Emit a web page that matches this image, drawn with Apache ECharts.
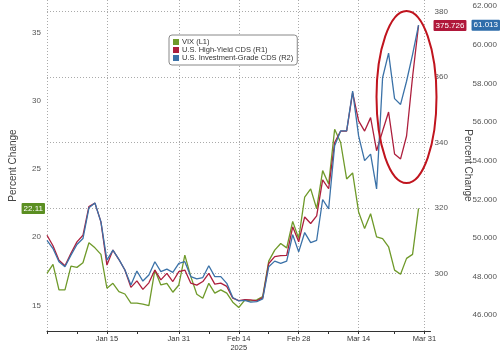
<!DOCTYPE html>
<html>
<head>
<meta charset="utf-8">
<script src="https://cdn.jsdelivr.net/npm/echarts@6/dist/echarts.min.js"></script>
<style>
html, body { margin: 0; padding: 0; background: #fff; }
#chart { width: 500px; height: 352px; }
</style>
</head>
<body>
<div id="chart"></div>
<script>
// weekday calendar (holidays kept, like the terminal chart)
var dates = [
  "Jan 1", "Jan 2", "Jan 3", "Jan 6", "Jan 7", "Jan 8", "Jan 9", "Jan 10", "Jan 13", "Jan 14",
  "Jan 15", "Jan 16", "Jan 17", "Jan 20", "Jan 21", "Jan 22", "Jan 23", "Jan 24", "Jan 27", "Jan 28",
  "Jan 29", "Jan 30", "Jan 31", "Feb 3", "Feb 4", "Feb 5", "Feb 6", "Feb 7", "Feb 10", "Feb 11",
  "Feb 12", "Feb 13", "Feb 14", "Feb 17", "Feb 18", "Feb 19", "Feb 20", "Feb 21", "Feb 24", "Feb 25",
  "Feb 26", "Feb 27", "Feb 28", "Mar 3", "Mar 4", "Mar 5", "Mar 6", "Mar 7", "Mar 10", "Mar 11",
  "Mar 12", "Mar 13", "Mar 14", "Mar 17", "Mar 18", "Mar 19", "Mar 20", "Mar 21", "Mar 24", "Mar 25",
  "Mar 26", "Mar 27", "Mar 28", "Mar 31", "Apr 1"
];
var labelDates = ["Jan 15", "Jan 31", "Feb 14", "Feb 28", "Mar 14", "Mar 31"];
var gridDates = ["Jan 1", "Jan 15", "Jan 31", "Feb 14", "Feb 28", "Mar 14", "Mar 31"];
var tickDates = ["Jan 1", "Jan 8", "Jan 15", "Jan 22", "Jan 31", "Feb 7", "Feb 14", "Feb 21",
  "Feb 28", "Mar 7", "Mar 14", "Mar 24", "Mar 31"];

// VIX (L1)
var vix = [
  17.35, 18.01, 16.14, 16.14, 17.88, 17.79, 18.13, 19.59, 19.22, 18.74,
  16.26, 16.62, 16.02, 15.84, 15.17, 15.17, 15.09, 14.99, 17.59, 16.5,
  16.62, 15.97, 16.5, 18.69, 17.11, 15.82, 15.53, 16.62, 15.9, 16.14,
  15.9, 15.24, 14.85, 15.39, 15.34, 15.41, 15.66, 18.25, 19.05, 19.54,
  19.22, 21.16, 19.9, 22.94, 23.54, 22.09, 24.88, 23.9, 27.91, 26.94,
  24.27, 24.71, 21.85, 20.63, 21.72, 20.03, 19.9, 19.3, 17.59, 17.28,
  18.45, 18.74, 22.11
];
// U.S. High-Yield CDS (R1)
var hyCds = [
  311.7, 308.5, 304.1, 302.4, 306.2, 309.7, 311.7, 320.5, 321.5, 315.8,
  302.6, 307.2, 304.3, 301.1, 295.8, 297.8, 295.2, 297.2, 301.1, 298.1,
  300.1, 297.6, 300.6, 301.1, 297.1, 296.5, 297.6, 300.1, 296.8, 297.1,
  296.1, 292.5, 291.8, 292.1, 292.0, 291.7, 292.7, 303.1, 305.2, 305.5,
  305.6, 314.3, 309.7, 317.3, 315.3, 317.6, 328.6, 325.9, 340.0, 343.5,
  343.5, 355.2, 346.6, 343.5, 347.6, 337.5, 343.5, 349.3, 336.5, 335.0,
  342.0, 360.0, 375.726
];
// U.S. Investment-Grade CDS (R2)
var igCds = [
  49.88, 49.45, 48.77, 48.51, 49.11, 49.66, 49.97, 51.56, 51.81, 50.83,
  48.85, 49.37, 48.89, 48.34, 47.57, 48.29, 47.77, 48.08, 48.77, 48.26,
  48.39, 48.22, 48.68, 48.77, 48.0, 47.88, 47.95, 48.56, 48.0, 48.0,
  47.65, 46.92, 46.74, 46.77, 46.68, 46.71, 46.85, 48.51, 48.8, 48.68,
  48.8, 50.17, 49.28, 50.28, 49.76, 49.88, 51.99, 51.51, 54.77, 55.54,
  55.54, 57.6, 55.28, 54.0, 54.34, 52.54, 58.29, 59.57, 57.21, 56.91,
  58.11, 59.49, 61.013
];

var vixTicks = [15, 20, 25, 30, 35];
var hyTicks = [300, 320, 340, 360, 380];
var igTicks = [46, 48, 50, 52, 54, 56, 58, 60, 62];

var green = "#6f9a2a";
var red = "#ad1f3d";
var blue = "#3b72a8";

function lastOf(arr) {
  return arr[arr.length - 1];
}

// invisible horizontal line at the last value, only its label is shown
function lastValueMark(arr, pos, dist, bg) {
  return {
    silent: true,
    symbol: "none",
    lineStyle: { width: 0, color: "rgba(0,0,0,0)", type: "solid" },
    label: {
      show: true,
      position: pos,
      distance: dist,
      formatter: "" + lastOf(arr),
      backgroundColor: bg,
      color: "#fff",
      fontSize: 8,
      padding: [2, 2, 1, 2],
      borderRadius: 1
    },
    data: [{ yAxis: lastOf(arr) }]
  };
}

var chart = echarts.init(document.getElementById("chart"));

var option = {
  animation: false,
  textStyle: { fontFamily: "Liberation Sans" },
  grid: { left: 35.7, right: 66.2, top: 0, bottom: 19 },
  legend: {
    orient: "vertical",
    left: 169,
    top: 35,
    icon: "rect",
    itemWidth: 6,
    itemHeight: 6,
    itemGap: 0,
    padding: [3, 4, 3, 4],
    backgroundColor: "#fff",
    borderColor: "#888",
    borderWidth: 1,
    borderRadius: 3,
    textStyle: { fontSize: 7.5, color: "#333", lineHeight: 8, padding: [0, 0, 0, -2] },
    data: ["VIX (L1)", "U.S. High-Yield CDS (R1)", "U.S. Investment-Grade CDS (R2)"]
  },
  xAxis: {
    type: "category",
    data: dates,
    boundaryGap: false,
    axisLine: { lineStyle: { color: "#333", width: 1 } },
    axisTick: {
      interval: function (i, v) { return tickDates.indexOf(v) >= 0; },
      length: 3,
      lineStyle: { color: "#333" }
    },
    axisLabel: {
      interval: function (i, v) { return labelDates.indexOf(v) >= 0; },
      formatter: function (v) { return v === "Feb 14" ? "Feb 14\n2025" : v; },
      fontSize: 7.5,
      lineHeight: 9,
      color: "#333",
      margin: 3
    },
    splitLine: {
      show: true,
      interval: function (i, v) { return gridDates.indexOf(v) >= 0; },
      lineStyle: { color: "#aaa", type: [1, 2] }
    }
  },
  yAxis: [
    {
      type: "value",
      position: "left",
      min: 13.128,
      max: 37.381,
      name: "Percent Change",
      nameLocation: "middle",
      nameGap: 29,
      nameTextStyle: { fontSize: 10, color: "#444" },
      axisLine: { show: false },
      axisTick: { show: false, customValues: vixTicks },
      axisLabel: { customValues: vixTicks, fontSize: 8, color: "#555", margin: 6 },
      splitLine: { show: false }
    },
    {
      type: "value",
      position: "right",
      min: 282.5,
      max: 383.49,
      name: "Percent Change",
      nameLocation: "middle",
      nameGap: 32,
      nameRotate: -90,
      nameTextStyle: { fontSize: 10, color: "#444" },
      axisLine: { show: false },
      axisTick: { show: false, customValues: hyTicks },
      axisLabel: { customValues: hyTicks, fontSize: 8, color: "#555", margin: 4 },
      splitLine: { show: true, lineStyle: { color: "#aaa", type: [1, 2] } }
    },
    {
      type: "value",
      position: "right",
      offset: 40,
      min: 45.185,
      max: 62.315,
      axisLine: { show: false },
      axisTick: { show: false, customValues: igTicks },
      axisLabel: {
        customValues: igTicks,
        fontSize: 8,
        color: "#555",
        margin: 2,
        formatter: function (v) { return v.toFixed(3); }
      },
      splitLine: { show: false }
    }
  ],
  series: [
    {
      name: "VIX (L1)",
      type: "line",
      yAxisIndex: 0,
      data: vix,
      symbol: "none",
      color: green,
      lineStyle: { width: 1.3 },
      markLine: lastValueMark(vix, "start", 2, "#5b8f22")
    },
    {
      name: "U.S. High-Yield CDS (R1)",
      type: "line",
      yAxisIndex: 1,
      data: hyCds,
      symbol: "none",
      color: red,
      lineStyle: { width: 1.3 },
      markLine: lastValueMark(hyCds, "end", 3, "#b0173a")
    },
    {
      name: "U.S. Investment-Grade CDS (R2)",
      type: "line",
      yAxisIndex: 2,
      data: igCds,
      symbol: "none",
      color: blue,
      lineStyle: { width: 1.3 },
      markLine: lastValueMark(igCds, "end", 41, "#2f6eab")
    }
  ],
  graphic: [
    {
      type: "ellipse",
      z: 100,
      shape: { cx: 406.5, cy: 97, rx: 30, ry: 86 },
      style: { fill: null, stroke: "#c0141e", lineWidth: 2 }
    }
  ]
};

chart.setOption(option);
</script>
</body>
</html>
